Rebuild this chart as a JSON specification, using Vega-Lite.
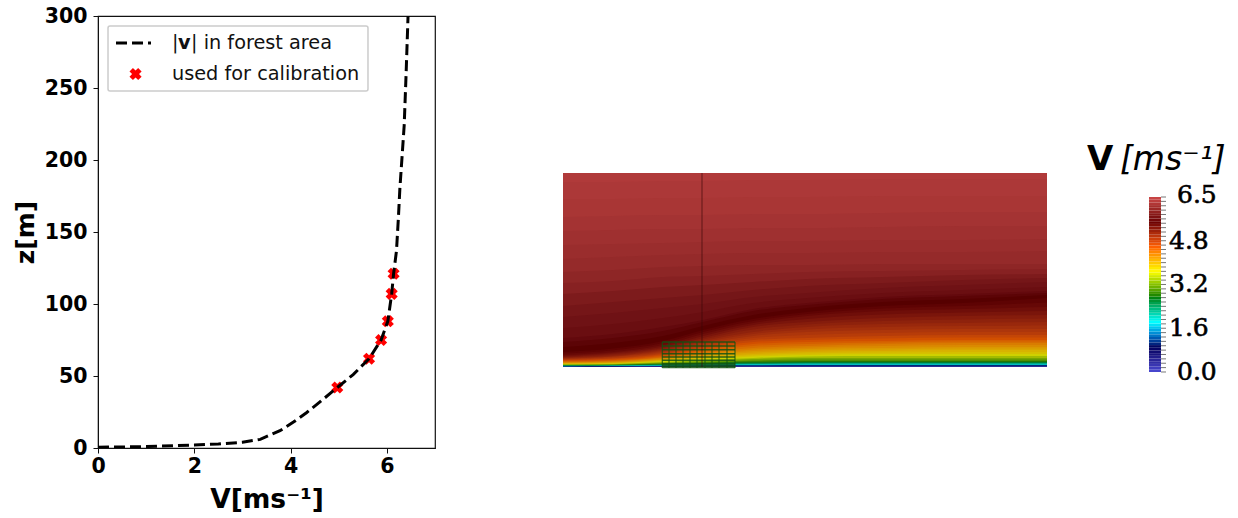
{"$schema":"https://vega.github.io/schema/vega-lite/v6.json","background":"white","padding":{"left":12,"top":5,"right":0,"bottom":0},"spacing":127,"resolve":{"scale":{"color":"independent"}},"config":{"font":"DejaVu Sans","axis":{"grid":false}},
"datasets":{
"profile":[{"V":0,"z":0.5},{"V":1,"z":1},{"V":2,"z":2},{"V":2.5,"z":2.8},{"V":3,"z":4},{"V":3.37,"z":6},{"V":3.78,"z":12},{"V":4.06,"z":18},{"V":4.33,"z":24.5},{"V":4.61,"z":32},{"V":4.97,"z":42},{"V":5.3,"z":51},{"V":5.63,"z":62},{"V":5.88,"z":75},{"V":6.02,"z":88},{"V":6.1,"z":107},{"V":6.14,"z":121},{"V":6.2,"z":137},{"V":6.24,"z":160},{"V":6.27,"z":180},{"V":6.36,"z":224},{"V":6.4,"z":260},{"V":6.44,"z":300}],
"calib":[{"V":4.97,"z":42},{"V":5.63,"z":62},{"V":5.88,"z":75},{"V":6.02,"z":88},{"V":6.1,"z":107},{"V":6.14,"z":121}],
"heat":[
{"v":0,"x":0,"z":0},{"v":0,"x":50,"z":0},{"v":0,"x":100,"z":0},{"v":0,"x":140,"z":0},{"v":0,"x":190,"z":0},{"v":0,"x":244,"z":0},{"v":0,"x":320,"z":0},{"v":0,"x":400,"z":0},{"v":0,"x":484,"z":0},
{"v":0.5,"x":0,"z":0.2},{"v":0.5,"x":50,"z":0.3},{"v":0.5,"x":100,"z":0.4},{"v":0.5,"x":140,"z":0.5},{"v":0.5,"x":190,"z":0.5},{"v":0.5,"x":244,"z":0.5},{"v":0.5,"x":320,"z":0.5},{"v":0.5,"x":400,"z":0.5},{"v":0.5,"x":484,"z":0.5},
{"v":0.93,"x":0,"z":0.4},{"v":0.93,"x":50,"z":0.5},{"v":0.93,"x":100,"z":0.7},{"v":0.93,"x":140,"z":0.9},{"v":0.93,"x":190,"z":1},{"v":0.93,"x":244,"z":1},{"v":0.93,"x":320,"z":1},{"v":0.93,"x":400,"z":1},{"v":0.93,"x":484,"z":1},
{"v":1.3,"x":0,"z":0.6},{"v":1.3,"x":50,"z":0.7},{"v":1.3,"x":100,"z":1},{"v":1.3,"x":140,"z":1.2},{"v":1.3,"x":190,"z":1.3},{"v":1.3,"x":244,"z":1.4},{"v":1.3,"x":320,"z":1.4},{"v":1.3,"x":400,"z":1.4},{"v":1.3,"x":484,"z":1.4},
{"v":1.7,"x":0,"z":0.8},{"v":1.7,"x":50,"z":1},{"v":1.7,"x":100,"z":1.4},{"v":1.7,"x":140,"z":1.7},{"v":1.7,"x":190,"z":1.9},{"v":1.7,"x":244,"z":2},{"v":1.7,"x":320,"z":2},{"v":1.7,"x":400,"z":2},{"v":1.7,"x":484,"z":2},
{"v":2,"x":0,"z":1},{"v":2,"x":50,"z":1.2},{"v":2,"x":100,"z":1.6},{"v":2,"x":140,"z":2},{"v":2,"x":190,"z":2.2},{"v":2,"x":244,"z":2.4},{"v":2,"x":320,"z":2.4},{"v":2,"x":400,"z":2.4},{"v":2,"x":484,"z":2.4},
{"v":2.3,"x":0,"z":1.2},{"v":2.3,"x":50,"z":1.4},{"v":2.3,"x":100,"z":2},{"v":2.3,"x":140,"z":2.5},{"v":2.3,"x":190,"z":2.9},{"v":2.3,"x":244,"z":3.2},{"v":2.3,"x":320,"z":3.2},{"v":2.3,"x":400,"z":3.2},{"v":2.3,"x":484,"z":3.2},
{"v":2.6,"x":0,"z":1.4},{"v":2.6,"x":50,"z":1.7},{"v":2.6,"x":100,"z":2.4},{"v":2.6,"x":140,"z":3},{"v":2.6,"x":190,"z":3.5},{"v":2.6,"x":244,"z":4},{"v":2.6,"x":320,"z":4},{"v":2.6,"x":400,"z":4},{"v":2.6,"x":484,"z":4},
{"v":2.9,"x":0,"z":1.7},{"v":2.9,"x":50,"z":2},{"v":2.9,"x":100,"z":2.8},{"v":2.9,"x":140,"z":3.6},{"v":2.9,"x":190,"z":4.4},{"v":2.9,"x":244,"z":5},{"v":2.9,"x":320,"z":5},{"v":2.9,"x":400,"z":5},{"v":2.9,"x":484,"z":5},
{"v":3.1,"x":0,"z":1.9},{"v":3.1,"x":50,"z":2.2},{"v":3.1,"x":100,"z":3.2},{"v":3.1,"x":140,"z":4.3},{"v":3.1,"x":190,"z":5.4},{"v":3.1,"x":244,"z":6},{"v":3.1,"x":320,"z":6},{"v":3.1,"x":400,"z":6},{"v":3.1,"x":484,"z":6},
{"v":3.3,"x":0,"z":2.1},{"v":3.3,"x":50,"z":2.5},{"v":3.3,"x":100,"z":3.8},{"v":3.3,"x":140,"z":5},{"v":3.3,"x":190,"z":6.6},{"v":3.3,"x":244,"z":7.5},{"v":3.3,"x":320,"z":7.5},{"v":3.3,"x":400,"z":7.5},{"v":3.3,"x":484,"z":7.5},
{"v":3.5,"x":0,"z":2.4},{"v":3.5,"x":50,"z":2.8},{"v":3.5,"x":100,"z":4.4},{"v":3.5,"x":140,"z":6},{"v":3.5,"x":190,"z":8},{"v":3.5,"x":244,"z":9},{"v":3.5,"x":320,"z":9},{"v":3.5,"x":400,"z":9},{"v":3.5,"x":484,"z":9},
{"v":3.7,"x":0,"z":2.7},{"v":3.7,"x":50,"z":3.2},{"v":3.7,"x":100,"z":5},{"v":3.7,"x":140,"z":7},{"v":3.7,"x":190,"z":9},{"v":3.7,"x":244,"z":10.5},{"v":3.7,"x":320,"z":11},{"v":3.7,"x":400,"z":11},{"v":3.7,"x":484,"z":11},
{"v":3.85,"x":0,"z":3},{"v":3.85,"x":50,"z":3.6},{"v":3.85,"x":100,"z":6},{"v":3.85,"x":140,"z":8},{"v":3.85,"x":190,"z":10.5},{"v":3.85,"x":244,"z":12},{"v":3.85,"x":320,"z":13},{"v":3.85,"x":400,"z":13},{"v":3.85,"x":484,"z":13},
{"v":3.95,"x":0,"z":3.3},{"v":3.95,"x":50,"z":3.9},{"v":3.95,"x":100,"z":6.5},{"v":3.95,"x":140,"z":9},{"v":3.95,"x":190,"z":11.7},{"v":3.95,"x":244,"z":13.5},{"v":3.95,"x":320,"z":14.5},{"v":3.95,"x":400,"z":15},{"v":3.95,"x":484,"z":15},
{"v":4.05,"x":0,"z":3.6},{"v":4.05,"x":50,"z":4.2},{"v":4.05,"x":100,"z":7},{"v":4.05,"x":140,"z":10},{"v":4.05,"x":190,"z":13},{"v":4.05,"x":244,"z":15},{"v":4.05,"x":320,"z":16},{"v":4.05,"x":400,"z":17},{"v":4.05,"x":484,"z":17},
{"v":4.15,"x":0,"z":3.9},{"v":4.15,"x":50,"z":4.6},{"v":4.15,"x":100,"z":7.5},{"v":4.15,"x":140,"z":11},{"v":4.15,"x":190,"z":14.5},{"v":4.15,"x":244,"z":16.5},{"v":4.15,"x":320,"z":17.5},{"v":4.15,"x":400,"z":18.5},{"v":4.15,"x":484,"z":18.5},
{"v":4.25,"x":0,"z":4.2},{"v":4.25,"x":50,"z":5},{"v":4.25,"x":100,"z":8},{"v":4.25,"x":140,"z":12},{"v":4.25,"x":190,"z":16},{"v":4.25,"x":244,"z":18},{"v":4.25,"x":320,"z":19},{"v":4.25,"x":400,"z":20},{"v":4.25,"x":484,"z":20},
{"v":4.35,"x":0,"z":4.6},{"v":4.35,"x":50,"z":5.5},{"v":4.35,"x":100,"z":8.7},{"v":4.35,"x":140,"z":13},{"v":4.35,"x":190,"z":17.5},{"v":4.35,"x":244,"z":19.5},{"v":4.35,"x":320,"z":21},{"v":4.35,"x":400,"z":22},{"v":4.35,"x":484,"z":22},
{"v":4.45,"x":0,"z":5},{"v":4.45,"x":50,"z":6},{"v":4.45,"x":100,"z":9.5},{"v":4.45,"x":140,"z":14},{"v":4.45,"x":190,"z":19},{"v":4.45,"x":244,"z":21},{"v":4.45,"x":320,"z":23},{"v":4.45,"x":400,"z":24},{"v":4.45,"x":484,"z":24},
{"v":4.55,"x":0,"z":5.5},{"v":4.55,"x":50,"z":6.5},{"v":4.55,"x":100,"z":10},{"v":4.55,"x":140,"z":15.5},{"v":4.55,"x":190,"z":21},{"v":4.55,"x":244,"z":23},{"v":4.55,"x":320,"z":24.5},{"v":4.55,"x":400,"z":25.5},{"v":4.55,"x":484,"z":25.5},
{"v":4.65,"x":0,"z":6},{"v":4.65,"x":50,"z":7},{"v":4.65,"x":100,"z":11},{"v":4.65,"x":140,"z":17},{"v":4.65,"x":190,"z":23},{"v":4.65,"x":244,"z":25},{"v":4.65,"x":320,"z":26},{"v":4.65,"x":400,"z":27},{"v":4.65,"x":484,"z":27},
{"v":4.75,"x":0,"z":6.5},{"v":4.75,"x":50,"z":7.7},{"v":4.75,"x":100,"z":12},{"v":4.75,"x":140,"z":18.5},{"v":4.75,"x":190,"z":25},{"v":4.75,"x":244,"z":27},{"v":4.75,"x":320,"z":28.5},{"v":4.75,"x":400,"z":29.5},{"v":4.75,"x":484,"z":29.5},
{"v":4.85,"x":0,"z":7},{"v":4.85,"x":50,"z":8.5},{"v":4.85,"x":100,"z":13},{"v":4.85,"x":140,"z":20},{"v":4.85,"x":190,"z":27},{"v":4.85,"x":244,"z":29},{"v":4.85,"x":320,"z":31},{"v":4.85,"x":400,"z":32},{"v":4.85,"x":484,"z":32},
{"v":4.92,"x":0,"z":7.5},{"v":4.92,"x":50,"z":9},{"v":4.92,"x":100,"z":14},{"v":4.92,"x":140,"z":21.5},{"v":4.92,"x":190,"z":29},{"v":4.92,"x":244,"z":32},{"v":4.92,"x":320,"z":34},{"v":4.92,"x":400,"z":35},{"v":4.92,"x":484,"z":35},
{"v":5,"x":0,"z":8},{"v":5,"x":50,"z":10},{"v":5,"x":100,"z":15},{"v":5,"x":140,"z":23},{"v":5,"x":190,"z":31},{"v":5,"x":244,"z":35},{"v":5,"x":320,"z":37},{"v":5,"x":400,"z":38},{"v":5,"x":484,"z":38},
{"v":5.07,"x":0,"z":8.5},{"v":5.07,"x":50,"z":10.5},{"v":5.07,"x":100,"z":16},{"v":5.07,"x":140,"z":24.5},{"v":5.07,"x":190,"z":33},{"v":5.07,"x":244,"z":37.5},{"v":5.07,"x":320,"z":40},{"v":5.07,"x":400,"z":41},{"v":5.07,"x":484,"z":41.5},
{"v":5.15,"x":0,"z":9},{"v":5.15,"x":50,"z":11},{"v":5.15,"x":100,"z":17},{"v":5.15,"x":140,"z":26},{"v":5.15,"x":190,"z":35},{"v":5.15,"x":244,"z":40},{"v":5.15,"x":320,"z":43},{"v":5.15,"x":400,"z":44},{"v":5.15,"x":484,"z":45},
{"v":5.22,"x":0,"z":9.5},{"v":5.22,"x":50,"z":12},{"v":5.22,"x":100,"z":18},{"v":5.22,"x":140,"z":27.5},{"v":5.22,"x":190,"z":37.5},{"v":5.22,"x":244,"z":42.5},{"v":5.22,"x":320,"z":46},{"v":5.22,"x":400,"z":47.5},{"v":5.22,"x":484,"z":48.5},
{"v":5.3,"x":0,"z":10},{"v":5.3,"x":50,"z":13},{"v":5.3,"x":100,"z":19},{"v":5.3,"x":140,"z":29},{"v":5.3,"x":190,"z":40},{"v":5.3,"x":244,"z":45},{"v":5.3,"x":320,"z":49},{"v":5.3,"x":400,"z":51},{"v":5.3,"x":484,"z":52},
{"v":5.38,"x":0,"z":11},{"v":5.38,"x":50,"z":14},{"v":5.38,"x":100,"z":20.5},{"v":5.38,"x":140,"z":31},{"v":5.38,"x":190,"z":42},{"v":5.38,"x":244,"z":48},{"v":5.38,"x":320,"z":52.5},{"v":5.38,"x":400,"z":54.5},{"v":5.38,"x":484,"z":56},
{"v":5.45,"x":0,"z":12},{"v":5.45,"x":50,"z":15},{"v":5.45,"x":100,"z":22},{"v":5.45,"x":140,"z":33},{"v":5.45,"x":190,"z":44},{"v":5.45,"x":244,"z":51},{"v":5.45,"x":320,"z":56},{"v":5.45,"x":400,"z":58},{"v":5.45,"x":484,"z":60},
{"v":5.51,"x":0,"z":13.5},{"v":5.51,"x":50,"z":16.7},{"v":5.51,"x":100,"z":24},{"v":5.51,"x":140,"z":35},{"v":5.51,"x":190,"z":46},{"v":5.51,"x":244,"z":53},{"v":5.51,"x":320,"z":58.5},{"v":5.51,"x":400,"z":61},{"v":5.51,"x":484,"z":64.5},
{"v":5.57,"x":0,"z":15},{"v":5.57,"x":50,"z":18.5},{"v":5.57,"x":100,"z":26},{"v":5.57,"x":140,"z":37},{"v":5.57,"x":190,"z":48},{"v":5.57,"x":244,"z":55},{"v":5.57,"x":320,"z":61},{"v":5.57,"x":400,"z":64},{"v":5.57,"x":484,"z":69},
{"v":5.63,"x":0,"z":20},{"v":5.63,"x":50,"z":24},{"v":5.63,"x":100,"z":31},{"v":5.63,"x":140,"z":41},{"v":5.63,"x":190,"z":52},{"v":5.63,"x":244,"z":59},{"v":5.63,"x":320,"z":65},{"v":5.63,"x":400,"z":68},{"v":5.63,"x":484,"z":72},
{"v":5.69,"x":0,"z":25},{"v":5.69,"x":50,"z":29},{"v":5.69,"x":100,"z":36},{"v":5.69,"x":140,"z":45},{"v":5.69,"x":190,"z":56},{"v":5.69,"x":244,"z":62},{"v":5.69,"x":320,"z":68},{"v":5.69,"x":400,"z":71},{"v":5.69,"x":484,"z":74},
{"v":5.75,"x":0,"z":29},{"v":5.75,"x":50,"z":33},{"v":5.75,"x":100,"z":40},{"v":5.75,"x":140,"z":47},{"v":5.75,"x":190,"z":58},{"v":5.75,"x":244,"z":64},{"v":5.75,"x":320,"z":70},{"v":5.75,"x":400,"z":73},{"v":5.75,"x":484,"z":76},
{"v":5.8,"x":0,"z":39},{"v":5.8,"x":50,"z":43},{"v":5.8,"x":100,"z":49},{"v":5.8,"x":140,"z":55},{"v":5.8,"x":190,"z":64},{"v":5.8,"x":244,"z":69},{"v":5.8,"x":320,"z":74},{"v":5.8,"x":400,"z":77},{"v":5.8,"x":484,"z":80},
{"v":5.85,"x":0,"z":50},{"v":5.85,"x":50,"z":54},{"v":5.85,"x":100,"z":59},{"v":5.85,"x":140,"z":63},{"v":5.85,"x":190,"z":70},{"v":5.85,"x":244,"z":74},{"v":5.85,"x":320,"z":79},{"v":5.85,"x":400,"z":82},{"v":5.85,"x":484,"z":85},
{"v":5.92,"x":0,"z":61},{"v":5.92,"x":50,"z":65},{"v":5.92,"x":100,"z":69},{"v":5.92,"x":140,"z":72},{"v":5.92,"x":190,"z":77},{"v":5.92,"x":244,"z":81},{"v":5.92,"x":320,"z":84},{"v":5.92,"x":400,"z":87},{"v":5.92,"x":484,"z":89},
{"v":6,"x":0,"z":73},{"v":6,"x":50,"z":76},{"v":6,"x":100,"z":80},{"v":6,"x":140,"z":82},{"v":6,"x":190,"z":85},{"v":6,"x":244,"z":88},{"v":6,"x":320,"z":90},{"v":6,"x":400,"z":92},{"v":6,"x":484,"z":93},
{"v":6.06,"x":0,"z":84},{"v":6.06,"x":50,"z":86},{"v":6.06,"x":100,"z":90},{"v":6.06,"x":140,"z":91},{"v":6.06,"x":190,"z":93},{"v":6.06,"x":244,"z":95},{"v":6.06,"x":320,"z":96},{"v":6.06,"x":400,"z":97},{"v":6.06,"x":484,"z":98},
{"v":6.12,"x":0,"z":95},{"v":6.12,"x":50,"z":97},{"v":6.12,"x":100,"z":100},{"v":6.12,"x":140,"z":101},{"v":6.12,"x":190,"z":102},{"v":6.12,"x":244,"z":102},{"v":6.12,"x":320,"z":103},{"v":6.12,"x":400,"z":103},{"v":6.12,"x":484,"z":103},
{"v":6.16,"x":0,"z":108},{"v":6.16,"x":50,"z":110},{"v":6.16,"x":100,"z":112},{"v":6.16,"x":140,"z":113},{"v":6.16,"x":190,"z":114},{"v":6.16,"x":244,"z":114},{"v":6.16,"x":320,"z":115},{"v":6.16,"x":400,"z":115},{"v":6.16,"x":484,"z":116},
{"v":6.2,"x":0,"z":122},{"v":6.2,"x":50,"z":123},{"v":6.2,"x":100,"z":124},{"v":6.2,"x":140,"z":125},{"v":6.2,"x":190,"z":126},{"v":6.2,"x":244,"z":126},{"v":6.2,"x":320,"z":127},{"v":6.2,"x":400,"z":127},{"v":6.2,"x":484,"z":128},
{"v":6.24,"x":0,"z":136},{"v":6.24,"x":50,"z":137},{"v":6.24,"x":100,"z":138},{"v":6.24,"x":140,"z":138},{"v":6.24,"x":190,"z":139},{"v":6.24,"x":244,"z":139},{"v":6.24,"x":320,"z":140},{"v":6.24,"x":400,"z":141},{"v":6.24,"x":484,"z":141},
{"v":6.28,"x":0,"z":150},{"v":6.28,"x":50,"z":151},{"v":6.28,"x":100,"z":152},{"v":6.28,"x":140,"z":152},{"v":6.28,"x":190,"z":153},{"v":6.28,"x":244,"z":153},{"v":6.28,"x":320,"z":154},{"v":6.28,"x":400,"z":155},{"v":6.28,"x":484,"z":155},
{"v":6.31,"x":0,"z":168},{"v":6.31,"x":50,"z":168},{"v":6.31,"x":100,"z":169},{"v":6.31,"x":140,"z":169},{"v":6.31,"x":190,"z":170},{"v":6.31,"x":244,"z":170},{"v":6.31,"x":320,"z":171},{"v":6.31,"x":400,"z":171},{"v":6.31,"x":484,"z":171},
{"v":6.34,"x":0,"z":185},{"v":6.34,"x":50,"z":185},{"v":6.34,"x":100,"z":186},{"v":6.34,"x":140,"z":186},{"v":6.34,"x":190,"z":187},{"v":6.34,"x":244,"z":187},{"v":6.34,"x":320,"z":188},{"v":6.34,"x":400,"z":188},{"v":6.34,"x":484,"z":188}
],
"latticeH":[{"z":25},{"z":21},{"z":17.3},{"z":13.3},{"z":10},{"z":6.7},{"z":3.3},{"z":2},{"z":0.7},{"z":-0.5}],
"latticeV":[{"x":99.3},{"x":106},{"x":113},{"x":120},{"x":127},{"x":134},{"x":142},{"x":149},{"x":156},{"x":164},{"x":172}],
"bands":[{"a":0,"b":0.1,"c":0.05},{"a":0.1,"b":0.2,"c":0.15},{"a":0.2,"b":0.3,"c":0.25},{"a":0.3,"b":0.4,"c":0.35},{"a":0.4,"b":0.5,"c":0.45},{"a":0.5,"b":0.6,"c":0.55},{"a":0.6,"b":0.7,"c":0.65},{"a":0.7,"b":0.8,"c":0.75},{"a":0.8,"b":0.9,"c":0.85},{"a":0.9,"b":1,"c":0.95},{"a":1,"b":1.1,"c":1.05},{"a":1.1,"b":1.2,"c":1.15},{"a":1.2,"b":1.3,"c":1.25},{"a":1.3,"b":1.4,"c":1.35},{"a":1.4,"b":1.5,"c":1.45},{"a":1.5,"b":1.6,"c":1.55},{"a":1.6,"b":1.7,"c":1.65},{"a":1.7,"b":1.8,"c":1.75},{"a":1.8,"b":1.9,"c":1.85},{"a":1.9,"b":2,"c":1.95},{"a":2,"b":2.1,"c":2.05},{"a":2.1,"b":2.2,"c":2.15},{"a":2.2,"b":2.3,"c":2.25},{"a":2.3,"b":2.4,"c":2.35},{"a":2.4,"b":2.5,"c":2.45},{"a":2.5,"b":2.6,"c":2.55},{"a":2.6,"b":2.7,"c":2.65},{"a":2.7,"b":2.8,"c":2.75},{"a":2.8,"b":2.9,"c":2.85},{"a":2.9,"b":3,"c":2.95},{"a":3,"b":3.1,"c":3.05},{"a":3.1,"b":3.2,"c":3.15},{"a":3.2,"b":3.3,"c":3.25},{"a":3.3,"b":3.4,"c":3.35},{"a":3.4,"b":3.5,"c":3.45},{"a":3.5,"b":3.6,"c":3.55},{"a":3.6,"b":3.7,"c":3.65},{"a":3.7,"b":3.8,"c":3.75},{"a":3.8,"b":3.9,"c":3.85},{"a":3.9,"b":4,"c":3.95},{"a":4,"b":4.1,"c":4.05},{"a":4.1,"b":4.2,"c":4.15},{"a":4.2,"b":4.3,"c":4.25},{"a":4.3,"b":4.4,"c":4.35},{"a":4.4,"b":4.5,"c":4.45},{"a":4.5,"b":4.6,"c":4.55},{"a":4.6,"b":4.7,"c":4.65},{"a":4.7,"b":4.8,"c":4.75},{"a":4.8,"b":4.9,"c":4.85},{"a":4.9,"b":5,"c":4.95},{"a":5,"b":5.1,"c":5.05},{"a":5.1,"b":5.2,"c":5.15},{"a":5.2,"b":5.3,"c":5.25},{"a":5.3,"b":5.4,"c":5.35},{"a":5.4,"b":5.5,"c":5.45},{"a":5.5,"b":5.6,"c":5.55},{"a":5.6,"b":5.7,"c":5.65},{"a":5.7,"b":5.8,"c":5.75},{"a":5.8,"b":5.9,"c":5.85},{"a":5.9,"b":6,"c":5.95},{"a":6,"b":6.1,"c":6.05},{"a":6.1,"b":6.2,"c":6.15},{"a":6.2,"b":6.3,"c":6.25},{"a":6.3,"b":6.4,"c":6.35},{"a":6.4,"b":6.5,"c":6.45}],
"barTicks":[{"v":0},{"v":0.1625},{"v":0.325},{"v":0.4875},{"v":0.65},{"v":0.8125},{"v":0.975},{"v":1.1375},{"v":1.3},{"v":1.4625},{"v":1.625},{"v":1.7875},{"v":1.95},{"v":2.1125},{"v":2.275},{"v":2.4375},{"v":2.6},{"v":2.7625},{"v":2.925},{"v":3.0875},{"v":3.25},{"v":3.4125},{"v":3.575},{"v":3.7375},{"v":3.9},{"v":4.0625},{"v":4.225},{"v":4.3875},{"v":4.55},{"v":4.7125},{"v":4.875},{"v":5.0375},{"v":5.2},{"v":5.3625},{"v":5.525},{"v":5.6875},{"v":5.85},{"v":6.0125},{"v":6.175},{"v":6.3375},{"v":6.5}]
},
"hconcat":[
{"width":337,"height":432,"view":{"stroke":"#111","strokeWidth":1.2},
"layer":[
{"data":{"name":"calib"},"mark":{"type":"point","shape":"cross","angle":45,"filled":true,"color":"#ff0000","size":150,"opacity":1},"encoding":{"x":{"field":"V","type":"quantitative","scale":{"domain":[0,7],"nice":false,"zero":false},"axis":{"values":[0,2,4,6],"title":"V[ms⁻¹]","titleFont":"DejaVu Sans","titleFontWeight":"bold","titleFontSize":26.5,"titleColor":"#000","titlePadding":10,"labelFontWeight":"bold","labelFontSize":20.5,"labelColor":"#000","labelFont":"DejaVu Sans","labelFlush":false,"domainColor":"#111","tickColor":"#111","tickSize":5,"labelPadding":3}},"y":{"field":"z","type":"quantitative","scale":{"domain":[0,300],"nice":false,"zero":false},"axis":{"values":[0,50,100,150,200,250,300],"title":"z[m]","titleFont":"DejaVu Sans","titleFontWeight":"bold","titleFontSize":25,"titleColor":"#000","titlePadding":6,"labelFontWeight":"bold","labelFontSize":20.5,"labelColor":"#000","labelFont":"DejaVu Sans","labelFlush":false,"domainColor":"#111","tickColor":"#111","tickSize":5,"labelPadding":6}}}},
{"data":{"name":"profile"},"mark":{"type":"line","color":"#000","strokeWidth":3,"strokeDash":[11,5],"clip":true},"encoding":{"x":{"field":"V","type":"quantitative"},"y":{"field":"z","type":"quantitative"},"order":{"field":"z","type":"quantitative"}}},
{"data":{"values":[{"a":0.208,"b":5.608,"c":247.9,"d":293.05}]},"mark":{"type":"rect","fill":"#fff","stroke":"#ccc","strokeWidth":1.5,"cornerRadius":2},"encoding":{"x":{"field":"a","type":"quantitative"},"x2":{"field":"b"},"y":{"field":"c","type":"quantitative"},"y2":{"field":"d"}}},
{"data":{"values":[{"V":0.374,"z":281.25},{"V":1.101,"z":281.25}]},"mark":{"type":"line","color":"#000","strokeWidth":3,"strokeDash":[11,5]},"encoding":{"x":{"field":"V","type":"quantitative"},"y":{"field":"z","type":"quantitative"}}},
{"data":{"values":[{"V":0.78,"z":259.7}]},"mark":{"type":"point","shape":"cross","angle":45,"filled":true,"color":"#ff0000","size":150,"opacity":1},"encoding":{"x":{"field":"V","type":"quantitative"},"y":{"field":"z","type":"quantitative"}}},
{"data":{"values":[{"V":1.537,"z":281.25,"t":"|"},{"V":1.932,"z":281.25,"t":"| in forest area"},{"V":1.537,"z":259.7,"t":"used for calibration"}]},"mark":{"type":"text","align":"left","baseline":"middle","fontSize":19.3,"font":"DejaVu Sans","color":"#111"},"encoding":{"x":{"field":"V","type":"quantitative"},"y":{"field":"z","type":"quantitative"},"text":{"field":"t"}}},
{"data":{"values":[{"V":1.662,"z":281.25,"t":"v"}]},"mark":{"type":"text","align":"left","baseline":"middle","fontSize":19.3,"font":"DejaVu Sans","fontWeight":"bold","color":"#111"},"encoding":{"x":{"field":"V","type":"quantitative"},"y":{"field":"z","type":"quantitative"},"text":{"field":"t"}}}
]},
{"hconcat":[
{"width":484,"height":432,"view":{"stroke":null},
"layer":[
{"data":{"name":"heat"},"mark":{"type":"area","interpolate":"monotone","opacity":1},"encoding":{"x":{"field":"x","type":"quantitative","scale":{"domain":[0,484],"nice":false,"zero":false},"axis":null},"y":{"field":"z","type":"quantitative","scale":{"domain":[-81,351],"nice":false,"zero":false},"axis":null},"y2":{"datum":194},"detail":{"field":"v","type":"quantitative"},"color":{"field":"v","type":"quantitative","legend":null,"scale":{"domain":[0,0.929,1.857,2.786,3.714,4.643,5.571,6.5],"range":["#3c3cb4","#00004c","#00d2d2","#006900","#d2d200","#d25000","#560000","#c44646"]}}}},
{"data":{"name":"latticeH"},"mark":{"type":"rule","color":"#125212","opacity":0.85,"strokeWidth":1.4},"encoding":{"x":{"datum":99.3,"type":"quantitative"},"x2":{"datum":172},"y":{"field":"z","type":"quantitative"}}},
{"data":{"name":"latticeV"},"mark":{"type":"rule","color":"#125212","opacity":0.8,"strokeWidth":1.2},"encoding":{"x":{"field":"x","type":"quantitative"},"y":{"datum":-1,"type":"quantitative"},"y2":{"datum":25}}},
{"data":{"values":[{"x":139}]},"mark":{"type":"rule","color":"#3c0808","opacity":0.55,"strokeWidth":1.2},"encoding":{"x":{"field":"x","type":"quantitative"},"y":{"datum":0,"type":"quantitative"},"y2":{"datum":194}}}
]},
{"width":191,"height":432,"view":{"stroke":null},
"layer":[
{"data":{"name":"bands"},"mark":{"type":"rect"},"encoding":{"x":{"datum":102,"type":"quantitative","scale":{"domain":[0,191],"nice":false,"zero":false},"axis":null},"x2":{"datum":114},"y":{"field":"a","type":"quantitative","scale":{"domain":[-2.823,13.223],"nice":false,"zero":false},"axis":null},"y2":{"field":"b"},"color":{"field":"c","type":"quantitative","legend":null,"scale":{"domain":[0,0.929,1.857,2.786,3.714,4.643,5.571,6.5],"range":["#4a4ad4","#00005c","#00ffff","#008000","#ffff00","#ff6100","#6b0000","#cc4848"]}}}},
{"data":{"name":"barTicks"},"mark":{"type":"rule","color":"#777","strokeWidth":1},"encoding":{"x":{"datum":114,"type":"quantitative"},"x2":{"datum":119},"y":{"field":"v","type":"quantitative"}}},
{"data":{"values":[{"x":130,"v":6.57,"t":"6.5"},{"x":122,"v":4.875,"t":"4.8"},{"x":122,"v":3.25,"t":"3.2"},{"x":122,"v":1.625,"t":"1.6"},{"x":130,"v":0,"t":"0.0"}]},"mark":{"type":"text","align":"left","baseline":"middle","font":"DejaVu Serif","fontSize":25,"color":"#000","stroke":"#000","strokeWidth":0.6},"encoding":{"x":{"field":"x","type":"quantitative"},"y":{"field":"v","type":"quantitative"},"text":{"field":"t"}}},
{"data":{"values":[{"x":40,"v":7.5,"t":"V"}]},"mark":{"type":"text","align":"left","baseline":"alphabetic","font":"DejaVu Sans","fontWeight":"bold","fontSize":34,"color":"#000"},"encoding":{"x":{"field":"x","type":"quantitative"},"y":{"field":"v","type":"quantitative"},"text":{"field":"t"}}},
{"data":{"values":[{"x":73,"v":7.5,"t":"[ms⁻¹]"}]},"mark":{"type":"text","align":"left","baseline":"alphabetic","font":"DejaVu Sans","fontStyle":"italic","fontSize":33,"color":"#000"},"encoding":{"x":{"field":"x","type":"quantitative"},"y":{"field":"v","type":"quantitative"},"text":{"field":"t"}}}
]}
],"spacing":0,"resolve":{"scale":{"color":"independent"}}}
]}
